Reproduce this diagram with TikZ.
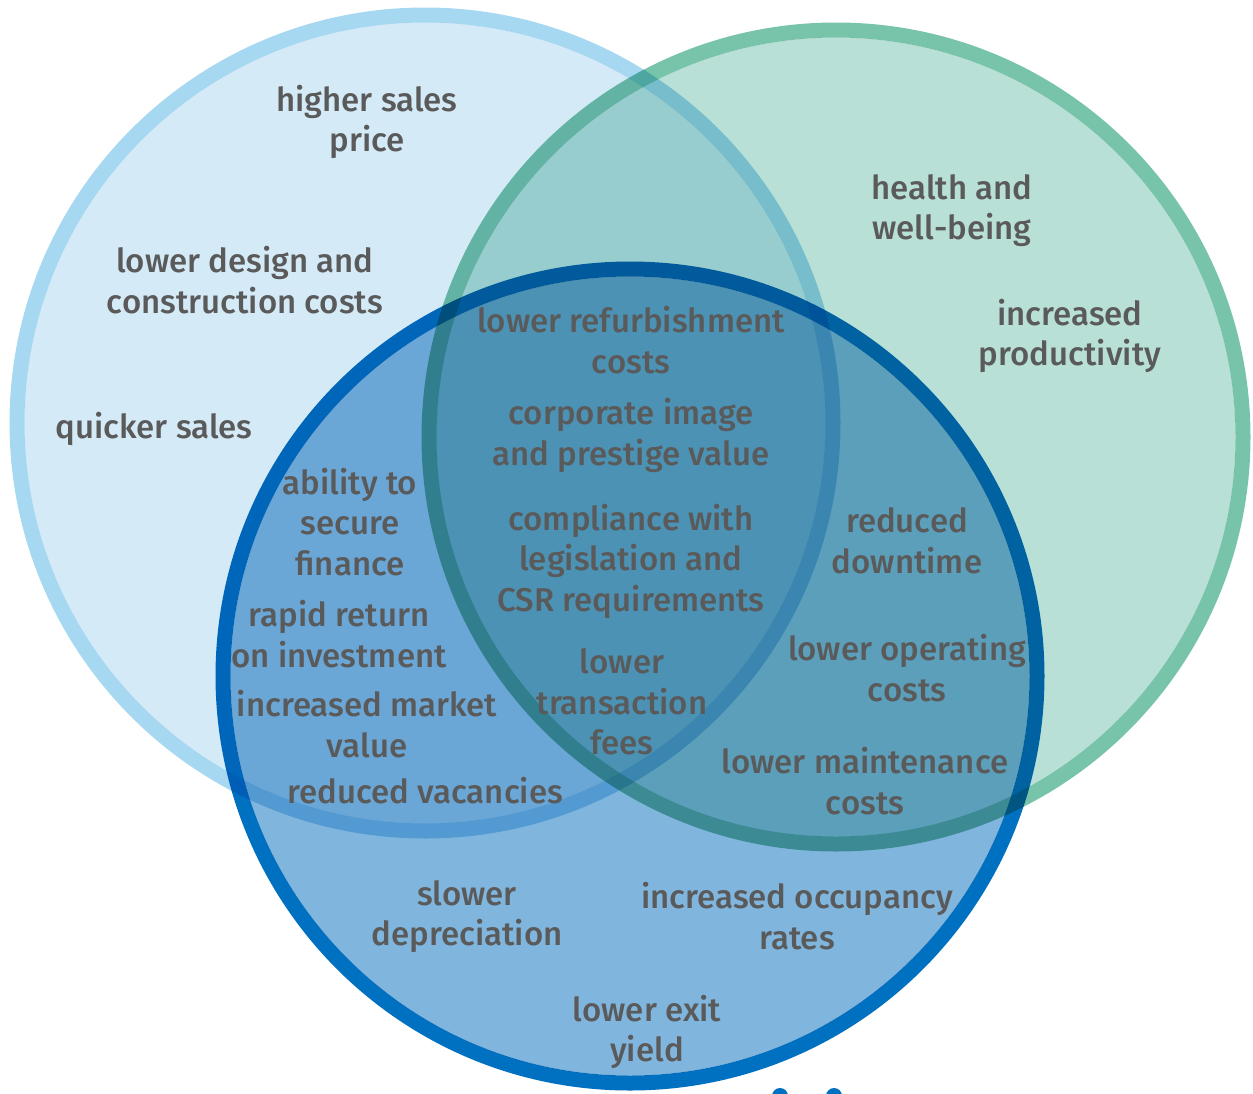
\documentclass[tikz,border=0pt]{standalone}
\usepackage{fontspec}
\setmainfont{Fira Sans Medium}
\definecolor{lbfill}{HTML}{D4EAF7}
\definecolor{lbline}{HTML}{A6D8F2}
\definecolor{grfill}{HTML}{B8E0D6}
\definecolor{grline}{HTML}{78C4AA}
\definecolor{blfill}{HTML}{80B6DE}
\definecolor{blline}{HTML}{0070C0}
\definecolor{txtgray}{HTML}{5A5A5A}
\begin{document}
\begin{tikzpicture}[x=1pt,y=-1pt,
  lbl/.style={text=txtgray, align=center, font=\fontsize{33}{40.5}\selectfont, inner sep=0pt},
  ring/.style={line width=15pt}]
\useasboundingbox (0,0) rectangle (1253,1093);
\clip (0,0) rectangle (1253,1093);
\begin{scope}[blend group=multiply]
  \fill[lbfill] (425,423) circle[radius=400.5pt];
  \draw[ring, lbline] (425,423) circle[radius=408pt];
  \fill[grfill] (836,437) circle[radius=399.5pt];
  \draw[ring, grline] (836,437) circle[radius=407pt];
  \fill[blfill] (630,676) circle[radius=399.5pt];
  \draw[ring, blline] (630,676) circle[radius=407pt];
\end{scope}
\fill[blline] (780,1096) circle[radius=8pt];
\fill[blline] (834,1096) circle[radius=8pt];

\node[lbl] (n1) at (367,122) {higher sales\\price};
\node[lbl] (n2) at (245,280) {lower design and\\construction costs};
\node[lbl] (n3) at (154,429) {quicker sales};
\node[lbl] (n4) at (952,210.5) {health and\\well-being};
\node[lbl] (n5) at (1070,336) {increased\\productivity};
\node[lbl] (n6) at (631,340) {lower refurbishment\\costs};
\node[lbl] (n7) at (631,435.5) {corporate image\\and prestige value};
\node[lbl] (n8) at (631,561) {compliance with\\legislation and\\CSR requirements};
\node[lbl] (n9) at (350,522) {ability to\\secure\\finance};
\node[lbl] (n10) at (907,541) {reduced\\downtime};
\node[lbl] (n11) at (339,634) {rapid return\\on investment};
\node[lbl] (n12) at (622,702) {lower\\transaction\\fees};
\node[lbl] (n13) at (907,668) {lower operating\\costs};
\node[lbl] (n14) at (367,724) {increased market\\value};
\node[lbl] (n15) at (865,781) {lower maintenance\\costs};
\node[lbl] (n16) at (425,791) {reduced vacancies};
\node[lbl] (n17) at (467,916.5) {slower\\depreciation};
\node[lbl] (n18) at (797,916) {increased occupancy\\rates};
\node[lbl] (n19) at (647,1032) {lower exit\\yield};
\end{tikzpicture}
\end{document}
